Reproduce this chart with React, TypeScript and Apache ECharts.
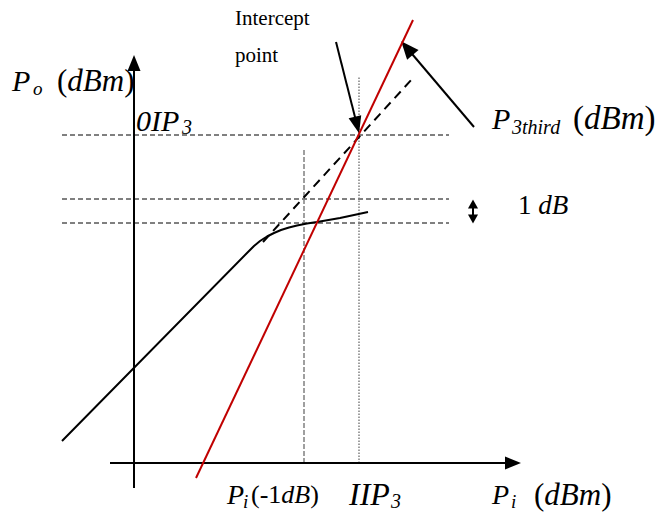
import React, { useEffect, useRef } from "react";
import * as echarts from "echarts";

// Coordinate frame: input power (x) vs output power (y), arbitrary dB units, origin at axes crossing
const xRange = [-13.4, 52.7];
const yRange = [-4.9, 46.3];

// Fundamental output (solid black, compresses)
const fundamental = [
  [-7.2, 2.2], [11.4, 21.1], [12.0, 21.7], [12.6, 22.2], [13.3, 22.65],
  [14.0, 23.0], [14.7, 23.3], [15.5, 23.55], [16.3, 23.75], [17.3, 23.95],
  [18.3, 24.1], [20.6, 24.5], [23.4, 25.1],
];
// Linear extrapolation of fundamental (dashed)
const extrapolated = [[12.9, 22.1], [27.9, 38.5]];
// Third-order product (red)
const thirdOrder = [[6.2, -1.5], [27.9, 44.3]];

// Reference levels
const oip3Level = 32.8;
const linearAtP1dB = 26.4;
const compressedAtP1dB = 24.0;
const p1dBInput = 17.0;
const iip3Input = 22.5;
const refSpan = [-7.2, 31.5];
const p1dBTop = 31.3;
const iip3Top = 38.7;

// Axis extents
const xAxisSpan = [-2.4, 38.7];
const yAxisSpan = [-2.5, 40.8];

// Annotation arrows [from, tip-adjusted end]
const interceptArrow = [[20.2, 42.1], [22.3, 33.8]];
const p3Arrow = [[34.0, 33.6], [27.3, 41.5]];
const oneDbArrow = [[33.9, 25.9], [33.9, 24.4]];

const SERIF = "Liberation Serif";

function txt(text: string, x: number, y: number, size: number, italic: boolean) {
  return {
    type: "text",
    x,
    y,
    silent: true,
    style: {
      text,
      fontFamily: SERIF,
      fontSize: size,
      fontStyle: italic ? "italic" : "normal",
      fill: "#000",
      align: "left",
      verticalAlign: "middle",
    },
  };
}

function rich(text: string, x: number, y: number, size: number) {
  return {
    type: "text",
    x,
    y,
    silent: true,
    style: {
      text,
      fill: "#000",
      fontFamily: SERIF,
      fontSize: size,
      align: "left",
      verticalAlign: "middle",
      rich: {
        n: { fontFamily: SERIF, fontSize: size, fontStyle: "normal", fill: "#000" },
        i: { fontFamily: SERIF, fontSize: size, fontStyle: "italic", fill: "#000" },
      },
    },
  };
}

function seg(data: number[][], color: string, width: number, type: any, z = 2) {
  return {
    type: "line",
    data,
    showSymbol: false,
    symbol: "none",
    silent: true,
    z,
    lineStyle: { color, width, type },
  };
}

function arrowItem(a: number[][], size: number[], both = false, width = 2) {
  return [
    {
      coord: a[0],
      symbol: both ? "triangle" : "none",
      symbolSize: size,
      lineStyle: { color: "#000", width, type: "solid" },
    },
    { coord: a[1], symbol: "triangle", symbolSize: size },
  ];
}

export default function App() {
  const ref = useRef<HTMLDivElement>(null);
  useEffect(() => {
    if (!ref.current) return;
    const chart = echarts.init(ref.current, undefined, { renderer: "svg" });
    const option: any = {
      animation: false,
      backgroundColor: "#fff",
      grid: { left: 0, right: 0, top: 0, bottom: 0 },
      xAxis: { type: "value", min: xRange[0], max: xRange[1], show: false },
      yAxis: { type: "value", min: yRange[0], max: yRange[1], show: false },
      series: [
        seg([[refSpan[0], oip3Level], [refSpan[1], oip3Level]], "#000", 1, [5, 3]),
        seg([[refSpan[0], linearAtP1dB], [refSpan[1], linearAtP1dB]], "#000", 1, [5, 3]),
        seg([[refSpan[0], compressedAtP1dB], [refSpan[1], compressedAtP1dB]], "#000", 1, [5, 3]),
        seg([[p1dBInput, 0], [p1dBInput, p1dBTop]], "#808080", 1.5, [5, 2]),
        seg([[iip3Input, 0], [iip3Input, iip3Top]], "#808080", 1.5, [1.5, 1.5]),
        seg(extrapolated, "#000", 2, [9, 6], 3),
        seg(fundamental, "#000", 2, "solid", 4),
        seg(thirdOrder, "#c00000", 2, "solid", 5),
        {
          type: "line",
          data: [[xAxisSpan[0], 0], [xAxisSpan[1], 0]],
          showSymbol: false,
          symbol: "none",
          silent: true,
          z: 6,
          lineStyle: { color: "#000", width: 0 },
          markLine: {
            silent: true,
            animation: false,
            label: { show: false },
            emphasis: { disabled: true },
            data: [
              arrowItem([[xAxisSpan[0], 0], [xAxisSpan[1] - 0.8, 0]], [13, 16]),
              arrowItem([[0, yAxisSpan[0]], [0, yAxisSpan[1] - 0.8]], [13, 16]),
              arrowItem(interceptArrow, [13, 17]),
              arrowItem(p3Arrow, [15, 18]),
              arrowItem(oneDbArrow, [10, 9], true, 2),
            ],
          },
        },
      ],
      graphic: [
        txt("Intercept", 235, 18, 21, false),
        txt("point", 235, 55, 21, false),
        txt("P", 12, 80, 30, true),
        txt("o", 33, 88, 19, true),
        rich("{n|(}{i|dBm}{n|)}", 57, 80, 31),
        txt("0IP", 136, 120, 30, true),
        txt("3", 182, 127, 20, true),
        txt("P", 492, 118, 30, true),
        txt("3third", 512, 127, 20, true),
        rich("{n|(}{i|dBm}{n|)}", 573, 118, 33),
        rich("{n|1 }{i|dB}", 518, 205, 27),
        txt("P", 227, 494, 28, true),
        txt("i", 243, 501, 19, true),
        rich("{n|(-1}{i|dB}{n|)}", 251, 494, 26),
        txt("IIP", 349, 494, 32, true),
        txt("3", 391, 501, 20, true),
        txt("P", 492, 494, 28, true),
        txt("i", 511, 501, 19, true),
        rich("{n|(}{i|dBm}{n|)}", 534, 494, 31),
      ],
    };
    chart.setOption(option);
    return () => chart.dispose();
  }, []);
  return (
    <div
      ref={ref}
      style={{ position: "absolute", left: 0, top: 0, width: 661, height: 512, background: "#fff" }}
    />
  );
}
